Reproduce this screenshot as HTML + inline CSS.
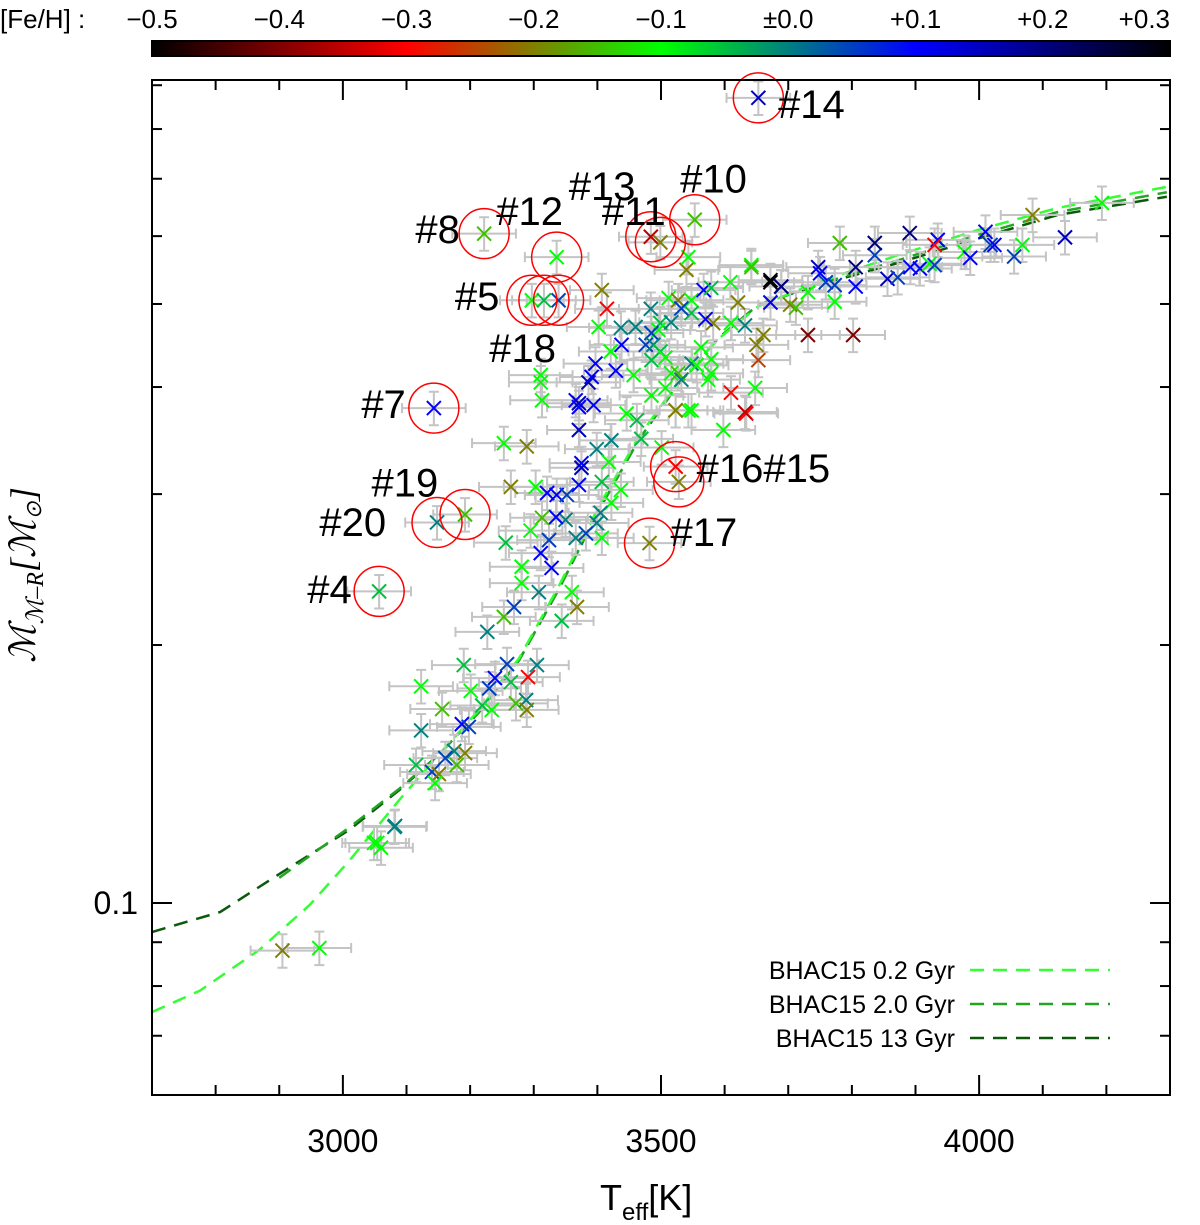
<!DOCTYPE html>
<html><head><meta charset="utf-8">
<style>
body{margin:0;background:#fff;}
svg{display:block;font-family:"Liberation Sans",sans-serif;}
</style></head>
<body>
<svg id="chart" width="1200" height="1225" viewBox="0 0 1200 1225" xmlns="http://www.w3.org/2000/svg">
<defs>
<linearGradient id="cbar" x1="0" x2="1" y1="0" y2="0">
<stop offset="0" stop-color="#000"/><stop offset="0.25" stop-color="#f00"/><stop offset="0.5" stop-color="#0f0"/><stop offset="0.75" stop-color="#00f"/><stop offset="1" stop-color="#000"/>
</linearGradient>
</defs>
<g id="colorbar">
<text x="0" y="28" font-size="26">[Fe/H] :</text>
<rect x="152" y="41" width="1018" height="15" fill="url(#cbar)" stroke="#000" stroke-width="2"/>
</g>
<g id="grid"></g>
<g id="models"></g>
<g id="errs"></g>
<g id="marks"></g>
<g id="circles"></g>
<g id="labels" font-size="40" fill="#000"></g>
<rect x="152" y="80" width="1018" height="1015" fill="none" stroke="#000" stroke-width="2"/>
<g id="axes"></g>
<g id="legend" font-size="25"></g>
<text x="35" y="575" font-size="36" font-style="italic" font-family="'Liberation Serif',serif" text-anchor="middle" transform="rotate(-90 35 575)">ℳ<tspan font-size="24" dy="8">ℳ–R</tspan><tspan dy="-8">[ℳ</tspan><tspan font-size="22" dy="6">⊙</tspan><tspan dy="-6">]</tspan></text>
<text x="600" y="1210" font-size="36">T<tspan font-size="24" dy="10">eff</tspan><tspan dy="-10">[K]</tspan></text>
</svg>
<script>
const fehTicks=[-0.5,-0.4,-0.3,-0.2,-0.1,0.0,0.1,0.2,0.3];
const fehTickLabels=["−0.5","−0.4","−0.3","−0.2","−0.1","±0.0","+0.1","+0.2","+0.3"];
const xTicks=[3000,3500,4000];
const xMinor=[2800,2900,3100,3200,3300,3400,3600,3700,3800,3900,4100,4200];
const yMajor=[0.1];
const yMinor=[0.07,0.08,0.09,0.2,0.3,0.4,0.5,0.6,0.7,0.8,0.9];
// stars: Teff, mass, [Fe/H]
const teff=[2905,2963,3054,3082,3253,3269,3344,3227,3190,3258,3305,3239,3291,3123,3230,3264,3201,3156,3219,3234,3272,3288,3289,3123,3187,3198,3175,3192,3161,3179,3115,3140,3151,3145,3081,3049,3060,
3253,3289,3264,3303,3321,3336,3352,3371,3375,3375,3371,3371,3399,3418,3422,3407,3437,3422,3405,3399,3382,3366,3350,3335,3313,3324,3311,3328,3295,3256,3281,3281,3308,3360,3368,3407,3501,3469,3462,3446,3598,3634,3523,3548,
3407,3415,3402,3437,3460,3484,3499,3512,3527,3548,3567,3579,3540,3543,3609,3642,3672,3689,3621,3632,3610,3582,3570,3548,3532,3516,3496,3485,3438,3476,3488,3499,3421,3457,3429,3397,3391,3386,3366,3371,3394,3311,3311,3313,3485,3507,3548,3563,3579,3516,3485,3507,3527,3532,3556,3574,3579,3650,3661,3653,3648,3610,3632,3731,3747,3759,3543,3523,
3642,3672,3689,3672,3703,3712,3731,3750,3773,3773,3802,3806,3806,3781,3836,3856,3836,3891,3872,3892,3907,3922,3930,3935,3930,3977,3986,4010,4018,4024,4068,4055,4084,4135,4193];
const mass=[0.088,0.0886,0.1175,0.123,0.2157,0.2215,0.2134,0.2072,0.1895,0.190,0.1895,0.183,0.1835,0.179,0.178,0.181,0.1768,0.1684,0.170,0.168,0.171,0.1725,0.168,0.159,0.1617,0.1605,0.1504,0.1496,0.1476,0.1449,0.1449,0.1422,0.1414,0.138,0.1227,0.1175,0.116,
0.344,0.341,0.3059,0.3059,0.3009,0.2993,0.2993,0.3075,0.326,0.322,0.3564,0.379,0.3385,0.327,0.3466,0.31,0.3034,0.293,0.2853,0.2776,0.270,0.2667,0.280,0.282,0.2815,0.2651,0.256,0.246,0.272,0.2633,0.2468,0.2362,0.2305,0.2305,0.2215,0.2667,0.340,0.348,0.3658,0.3725,0.3564,0.3725,0.3757,0.3757,
0.519,0.4935,0.470,0.469,0.470,0.4935,0.475,0.508,0.505,0.505,0.519,0.522,0.548,0.567,0.53,0.555,0.53,0.524,0.502,0.472,0.475,0.475,0.480,0.488,0.494,0.476,0.4663,0.4625,0.448,0.448,0.448,0.440,0.440,0.413,0.418,0.426,0.411,0.405,0.386,0.383,0.381,0.413,0.405,0.386,0.430,0.433,0.426,0.445,0.431,0.415,0.391,0.399,0.415,0.408,0.424,0.408,0.415,0.448,0.46,0.43,0.399,0.394,0.374,0.46,0.552,0.53,0.3757,0.3757,
0.552,0.533,0.524,0.502,0.499,0.495,0.516,0.543,0.526,0.503,0.46,0.524,0.552,0.589,0.57,0.535,0.589,0.605,0.537,0.552,0.55,0.557,0.555,0.594,0.586,0.575,0.566,0.607,0.586,0.586,0.586,0.568,0.635,0.598,0.656];
const feh=[-0.2,-0.1,-0.1,0.0,-0.15,0.05,-0.05,0.0,-0.05,0.05,0.0,0.1,-0.3,-0.1,0.05,-0.05,-0.1,-0.15,-0.05,-0.1,-0.15,0.0,-0.2,0.0,0.1,0.05,0.0,-0.2,0.05,-0.15,-0.05,0.05,-0.2,-0.1,0.0,-0.1,-0.1,
-0.1,-0.2,-0.2,-0.1,0.1,0.1,0.05,0.1,0.1,0.15,0.15,0.1,0.0,-0.1,0.0,-0.05,-0.1,-0.1,0.0,0.0,0.05,0.0,0.0,0.1,-0.15,0.05,0.1,0.1,-0.1,-0.05,-0.1,-0.1,0.0,-0.1,-0.2,-0.1,-0.1,-0.05,-0.05,-0.1,-0.1,-0.3,-0.2,-0.1,
-0.2,-0.3,-0.1,0.0,0.0,0.0,-0.05,-0.1,-0.2,-0.1,0.1,-0.05,-0.2,-0.1,-0.1,-0.1,0.3,0.2,-0.2,0.0,-0.1,-0.2,0.1,-0.05,0.05,0.0,-0.1,0.05,0.1,0.05,0.0,-0.05,-0.1,-0.1,0.1,0.1,0.1,0.15,0.1,0.15,0.1,-0.1,-0.1,-0.1,-0.05,-0.1,0.0,-0.1,-0.1,-0.1,-0.1,-0.1,-0.15,0.0,-0.1,-0.1,-0.1,-0.2,-0.2,-0.25,-0.1,-0.3,-0.35,-0.4,0.15,0.05,-0.1,-0.2,
-0.15,0.3,0.2,0.1,-0.2,-0.15,-0.1,0.1,0.05,-0.1,-0.4,0.1,0.2,-0.15,0.05,0.15,0.2,0.2,0.05,0.1,0.1,-0.1,0.05,0.1,-0.3,-0.1,0.1,0.1,0.05,0.1,-0.1,0.05,-0.2,0.15,-0.1,0.2];
// highlighted outliers
const hlName=["#14","#10","#11","#13","#8","#12","#5a","#5b","#5c","#7","#16","#15","#19","#20","#17","#4"];
const hlTeff=[3653,3553,3484,3499,3222,3336,3297,3316,3339,3143,3523,3528,3192,3148,3482,3057];
const hlMass=[0.87,0.627,0.599,0.59,0.604,0.567,0.505,0.505,0.505,0.378,0.323,0.310,0.284,0.278,0.263,0.231];
const hlFeh=[0.15,-0.15,-0.35,-0.2,-0.15,-0.1,-0.1,-0.05,0.05,0.1,-0.3,-0.2,-0.15,0.0,-0.2,-0.05];
const labelText=["#14","#10","#13","#11","#12","#8","#5","#18","#7","#19","#16#15","#20","#17","#4"];
const labelT=[3684,3530,3355,3407,3241,3114,3176,3230,3029,3045,3556,2963,3515,2944];
const labelM=[0.824,0.675,0.661,0.618,0.618,0.589,0.492,0.428,0.368,0.298,0.31,0.268,0.261,0.224];
// models
const m02T=[2700,2775,2869,2948,3010,3089,3151,3214,3277,3339,3402,3465,3527,3590,3653,3747,3872,3998,4123,4295];
const m02M=[0.0746,0.079,0.0882,0.0995,0.112,0.132,0.149,0.168,0.193,0.234,0.29,0.35,0.405,0.455,0.497,0.53,0.57,0.61,0.647,0.685];
const m2T=[2900,3010,3089,3151,3214,3277,3339,3402,3465,3527,3590,3653,3747,3872,3998,4123,4295];
const m2M=[0.107,0.1225,0.136,0.149,0.167,0.192,0.232,0.287,0.347,0.403,0.456,0.499,0.527,0.562,0.602,0.64,0.675];
const m13T=[2700,2807,2916,3010,3089,3151,3214,3277,3339,3402,3465,3527,3590,3653,3747,3872,3998,4123,4295];
const m13M=[0.0925,0.0976,0.110,0.1217,0.1355,0.149,0.167,0.192,0.232,0.287,0.347,0.403,0.456,0.499,0.526,0.558,0.596,0.635,0.667];
const ERR_T=50, ERR_M=0.045;

const NS="http://www.w3.org/2000/svg";
const X0=152,X1=1170,Y0=80,Y1=1095;
const xS=t=>X0+(t-2700)*(X1-X0)/1600;
const yS=m=>903-857*Math.log10(m/0.1);
const fx=f=>152+(f+0.5)*(1018/0.8);
function mk(tag,attrs,parent){const e=document.createElementNS(NS,tag);for(const k in attrs)e.setAttribute(k,attrs[k]);parent.appendChild(e);return e;}
function col(f){const st=[[-0.5,0,0,0],[-0.3,255,0,0],[-0.1,0,255,0],[0.1,0,0,255],[0.3,0,0,0]];
 f=Math.max(-0.5,Math.min(0.3,f));for(let i=0;i<4;i++){const a=st[i],b=st[i+1];if(f<=b[0]){const u=(f-a[0])/(b[0]-a[0]);return `rgb(${Math.round(a[1]+u*(b[1]-a[1]))},${Math.round(a[2]+u*(b[2]-a[2]))},${Math.round(a[3]+u*(b[3]-a[3]))})`;}}return "#000";}

const cb=document.getElementById('colorbar');
fehTicks.forEach((f,i)=>{
 const t=mk('text',{x:fx(f),y:28,'font-size':26,'text-anchor':i==fehTicks.length-1?'end':'middle'},cb);t.textContent=fehTickLabels[i];
 
 
});
const ax=document.getElementById('axes');
xTicks.forEach(t=>{const x=xS(t);
 const l=mk('line',{x1:x,x2:x,y1:Y1,y2:Y1-20,stroke:'#000','stroke-width':2},ax);
 
 
 mk('line',{x1:x,x2:x,y1:Y0,y2:Y0+20,stroke:'#000','stroke-width':2},ax);
 const tx=mk('text',{x:x,y:1152,'font-size':32,'text-anchor':'middle'},ax);tx.textContent=t;
 
 
});
xMinor.forEach(t=>{const x=xS(t);
 const l=mk('line',{x1:x,x2:x,y1:Y1,y2:Y1-10,stroke:'#000','stroke-width':2},ax);
 
 
 mk('line',{x1:x,x2:x,y1:Y0,y2:Y0+10,stroke:'#000','stroke-width':2},ax);
});
yMajor.forEach(m=>{const y=yS(m);
 const l=mk('line',{x1:X0,x2:X0+20,y1:y,y2:y,stroke:'#000','stroke-width':2},ax);
 
 
 mk('line',{x1:X1,x2:X1-20,y1:y,y2:y,stroke:'#000','stroke-width':2},ax);
 const tx=mk('text',{x:138,y:y+11,'font-size':32,'text-anchor':'end'},ax);tx.textContent=m;
 
 
});
yMinor.forEach(m=>{const y=yS(m);if(y<Y0)return;
 const l=mk('line',{x1:X0,x2:X0+10,y1:y,y2:y,stroke:'#000','stroke-width':2},ax);
 
 
 mk('line',{x1:X1,x2:X1-10,y1:y,y2:y,stroke:'#000','stroke-width':2},ax);
});

const errs=document.getElementById('errs'),marks=document.getElementById('marks');
function star(T,M,F){
 const x=xS(T),y=yS(M),xe=(xS(T+ERR_T)-x),y1=yS(M*(1+ERR_M)),y2=yS(M*(1-ERR_M));
 const g=mk('g',{stroke:'#c4c4c4','stroke-width':2,fill:'none'},errs);
 
 
 mk('path',{d:`M${x-xe},${y}H${x+xe}M${x-xe},${y-5}V${y+5}M${x+xe},${y-5}V${y+5}M${x},${y1}V${y2}M${x-5},${y1}H${x+5}M${x-5},${y2}H${x+5}`},g);
 const s=7;
 const p=mk('path',{d:`M${x-s},${y-s}L${x+s},${y+s}M${x-s},${y+s}L${x+s},${y-s}`,stroke:col(F),'stroke-width':2},marks);
 
 
}
teff.forEach((t,i)=>star(t,mass[i],feh[i]));
const circ=document.getElementById('circles');
hlTeff.forEach((t,i)=>{star(t,hlMass[i],hlFeh[i]);
 const c=mk('circle',{cx:xS(t),cy:yS(hlMass[i]),r:25,fill:'none',stroke:'#f00','stroke-width':1.5},circ);
 
 
});
const lab=document.getElementById('labels');
labelText.forEach((s,i)=>{const t=mk('text',{x:xS(labelT[i]),y:yS(labelM[i])},lab);t.textContent=s;
 
 
});
const mod=document.getElementById('models');
function curve(T,M,c,name){const d=T.map((t,i)=>(i?'L':'M')+xS(t)+','+yS(M[i])).join('');
 const p=mk('path',{d:d,fill:'none',stroke:c,'stroke-width':2.5,'stroke-dasharray':'14,9'},mod);
 
 }
curve(m13T,m13M,'#0b5a0b','model-13gyr');
curve(m2T,m2M,'#22a522','model-2gyr');
curve(m02T,m02M,'#33ff33','model-0.2gyr');
const lg=document.getElementById('legend');
[["BHAC15  0.2  Gyr",'#33ff33'],["BHAC15  2.0  Gyr",'#22a522'],["BHAC15  13  Gyr",'#0b5a0b']].forEach((e,i)=>{
 const y=970+i*34;
 const t=mk('text',{x:955,y:y+9,'text-anchor':'end','xml:space':'preserve'},lg);t.textContent=e[0];
 
 
 const l=mk('line',{x1:970,x2:1110,y1:y,y2:y,stroke:e[1],'stroke-width':2.5,'stroke-dasharray':'14,9'},lg);
 
 
});
</script>
</body></html>
